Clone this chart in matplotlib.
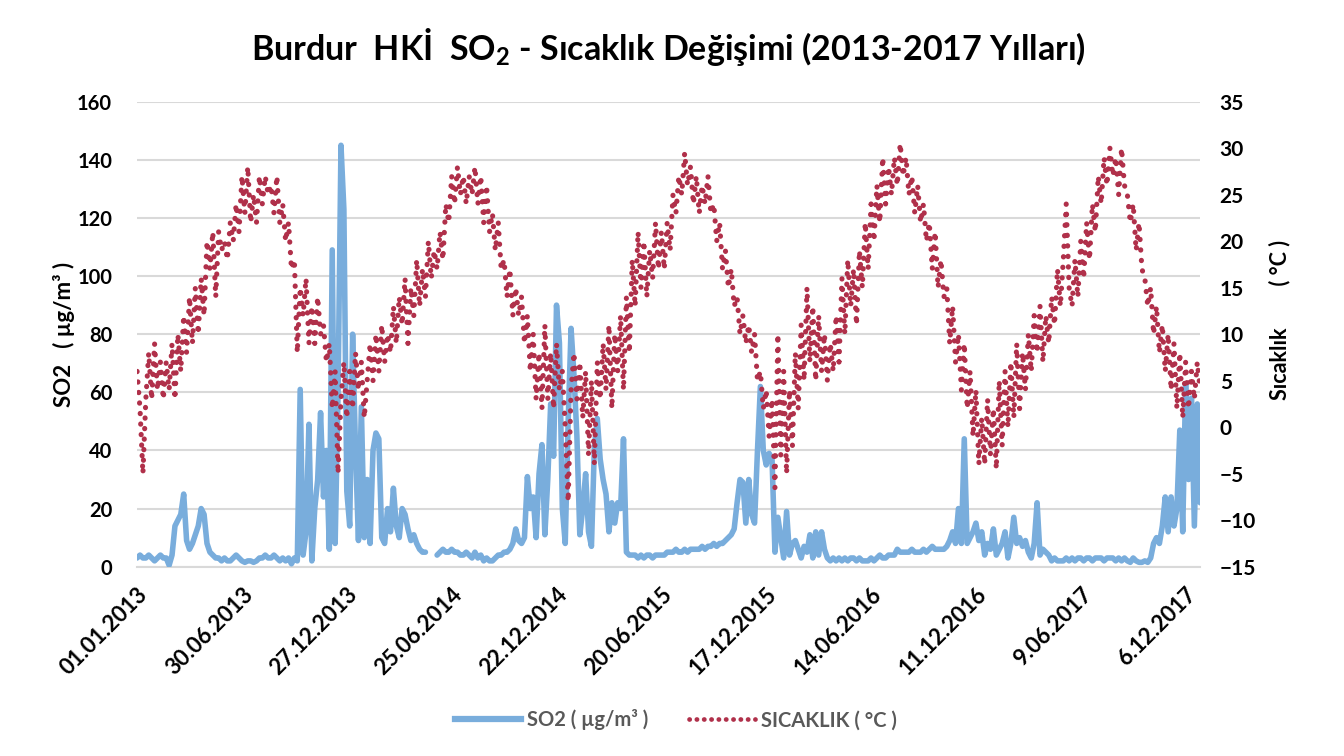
import numpy as np
import pandas as pd
import matplotlib
matplotlib.use('Agg')
import matplotlib.pyplot as plt
from matplotlib.lines import Line2D

plt.rcParams['font.family'] = ['Lato', 'DejaVu Sans']
plt.rcParams['mathtext.fontset'] = 'custom'
plt.rcParams['mathtext.rm'] = 'Lato:bold'
plt.rcParams['mathtext.it'] = 'Lato:bold'
plt.rcParams['mathtext.bf'] = 'Lato:bold'

# 5-day readings, 01.01.2013 - 31.12.2017 (nan = no measurement)
so2 = [
    3, 4, 3, 3, 4, 3, 2, 3, 4, 3,
    3, 0.5, 4, 14, 16, 18, 25, 9, 6, 8,
    11, 14, 20, 18, 8, 5, 4, 3, 3, 2,
    3, 2, 2, 3, 4, 3, 2, 1.5, 2, 2,
    1.5, 2, 3, 3, 4, 3, 3, 4, 3, 2,
    3, 2, 3, 1, 3, 2, 61, 4, 12, 49,
    2, 20, 30, 53, 24, 40, 6, 109, 8, 60,
    145, 123, 26, 14, 80, 40, 9, 55, 10, 30,
    8, 40, 46, 44, 10, 8, 20, 12, 27, 14,
    10, 20, 18, 13, 9, 11, 8, 6, 5, 5,
    np.nan, np.nan, np.nan, 4, 5, 6, 5, 5, 6, 5,
    5, 4, 4, 5, 4, 3, 5, 3, 4, 2,
    3, 2, 2, 3, 4, 4, 5, 5, 6, 8,
    13, 9, 8, 10, 31, 20, 24, 10, 32, 42,
    11, 30, 56, 38, 90, 77, 20, 8, 50, 82,
    66, 45, 11, 20, 32, 12, 7, 41, 51, 37,
    30, 25, 12, 22, 15, 22, 20, 44, 5, 4,
    4, 4, 3, 4, 3, 4, 4, 3, 4, 4,
    4, 4, 5, 5, 5, 6, 5, 5, 6, 5,
    6, 6, 6, 6, 7, 6, 7, 7, 8, 7,
    8, 8, 9, 10, 11, 13, 22, 30, 29, 15,
    30, 18, 15, 40, 62, 40, 35, 39, 37, 5,
    17, 10, 3, 19, 4, 8, 9, 6, 3, 7,
    5, 11, 3, 12, 4, 12, 6, 3, 2, 3,
    2, 3, 2, 3, 2, 3, 3, 2, 3, 2,
    2, 2, 3, 2, 3, 4, 3, 3, 4, 4,
    4, 6, 5, 5, 5, 5, 6, 5, 5, 5,
    6, 5, 6, 7, 6, 6, 6, 6, 7, 9,
    12, 8, 20, 8, 44, 8, 10, 12, 15, 9,
    12, 4, 8, 6, 13, 4, 6, 8, 12, 3,
    8, 17, 8, 10, 7, 9, 5, 3, 8, 22,
    4, 6, 5, 4, 2, 3, 2, 2, 2, 3,
    2, 3, 2, 3, 3, 2, 3, 3, 2, 3,
    3, 3, 2, 3, 3, 3, 2, 3, 2, 3,
    2, 1.5, 3, 2, 1.5, 1.5, 2, 1.5, 3, 8,
    10, 8, 14, 24, 12, 24, 14, 20, 47, 12,
    63, 30, 58, 14, 56, 22,
]

temp = [
    6, 2, -5, 3, 8, 3, 9, 4, 7, 3,
    7, 4, 9, 3, 10, 6, 12, 8, 14, 9,
    15, 10, 16, 12, 20, 17, 21, 14, 21, 19,
    20, 18, 22, 20, 24, 21, 27, 23, 28, 22,
    25, 22, 27, 24, 27, 25, 26, 23, 27, 22,
    24, 20, 22, 17, 18, 8, 15, 12, 16, 9,
    13, 9, 14, 10, 11, 7, 9, 2, 6, -5,
    3, 7, 1, 6, 2, 8, 4, 7, 1, 5,
    9, 5, 10, 6, 11, 7, 10, 8, 13, 9,
    14, 11, 16, 9, 15, 12, 18, 13, 17, 14,
    20, 16, 19, 17, 21, 18, 24, 22, 27, 24,
    28, 25, 27, 24, 27, 25, 28, 24, 27, 22,
    26, 21, 23, 19, 22, 17, 18, 14, 17, 12,
    15, 12, 14, 9, 12, 6, 10, 3, 8, 2,
    11, 3, 8, 2, 9, 4, 6, 0, -8, 4,
    8, 3, 7, 1, 6, -3, 5, -4, 7, 3,
    9, 4, 11, 2, 10, 6, 12, 4, 14, 8,
    18, 13, 21, 15, 20, 14, 19, 16, 22, 17,
    21, 17, 22, 19, 25, 23, 27, 25, 29.5, 26,
    28, 24, 27, 23, 26, 24, 27, 23, 24, 20,
    22, 17, 19, 15, 17, 13, 14, 10, 12, 9,
    11, 8, 10, 5, 6, 2, 4, -1, 3, -6.5,
    10, -3, 6, -5, 4, -2, 8, 2, 11, 5,
    15, 7, 13, 5, 12, 6, 10, 5, 9, 6,
    12, 7, 16, 10, 18, 13, 17, 11, 19, 15,
    22, 17, 24, 20, 26, 22, 29, 24, 28, 25,
    29, 26, 30.5, 27, 29, 25, 27, 23, 26, 22,
    24, 20, 22, 17, 21, 15, 18, 14, 15, 9,
    13, 7, 10, 4, 9, 2, 6, -1, 4, -4,
    1, -4, 3, -3, 2, -4.5, 5, -2, 6, 0,
    7, 1, 9, 2, 8, 4, 10, 6, 12, 8,
    13, 7, 12, 9, 14, 11, 17, 13, 18, 24,
    15, 13, 18, 14, 20, 16, 22, 18, 24, 21,
    27, 24, 29, 26, 30, 27, 29, 25, 30, 26,
    25, 22, 24, 19, 22, 17, 16, 13, 15, 10,
    13, 8, 11, 6, 10, 4, 9, 2, 8, 1,
    7, 2, 6, 3, 7, 4,
]

dates = pd.date_range('2013-01-01', periods=len(so2), freq='5D')

tick_labels = ['01.01.2013', '30.06.2013', '27.12.2013', '25.06.2014',
               '22.12.2014', '20.06.2015', '17.12.2015', '14.06.2016',
               '11.12.2016', '9.06.2017', '6.12.2017']
tick_dates = pd.to_datetime(tick_labels, format='%d.%m.%Y')

so2_ticks = [0, 20, 40, 60, 80, 100, 120, 140, 160]
temp_ticks = [-15, -10, -5, 0, 5, 10, 15, 20, 25, 30, 35]

BLUE = '#79ADDC'
RED = '#B0304A'
GRID = '#D9D9D9'
DOTS = (0, (0.05, 2.0))

fig = plt.figure(figsize=(13.44, 7.56), dpi=100)
ax = fig.add_axes([0.102, 0.2504, 0.791, 0.6151])
ax2 = ax.twinx()

ax.plot(dates, so2, color=BLUE, lw=4.0, solid_joinstyle='round',
        solid_capstyle='round', zorder=3)
ax2.plot(dates, temp, color=RED, lw=3.7, linestyle=DOTS,
         dash_capstyle='round', zorder=4)

ax.set_ylim(0, 160)
ax.set_yticks(so2_ticks)
ax2.set_ylim(-15, 35)
ax2.set_yticks(temp_ticks)
ax.set_xlim(dates[0], dates[-1])
ax.set_xticks(tick_dates)
ax.set_xticklabels(tick_labels, rotation=45, ha='right', va='top',
                   rotation_mode='anchor', fontsize=16, fontweight='bold')

ax.grid(axis='y', color=GRID, lw=1.5)
ax.set_axisbelow(True)
for a in (ax, ax2):
    for s in a.spines.values():
        s.set_visible(False)
    a.tick_params(length=0)
ax.spines['bottom'].set_visible(True)
ax.spines['bottom'].set_color(GRID)
ax.spines['bottom'].set_linewidth(1.5)

ax.tick_params(axis='y', labelsize=14.5, pad=18)
ax.tick_params(axis='x', pad=12)
ax2.tick_params(axis='y', labelsize=15, pad=14)
for lbl in ax.get_yticklabels() + ax2.get_yticklabels():
    lbl.set_fontweight('bold')

ax.set_ylabel('SO2   ( µg/m³ )', fontsize=16, fontweight='bold')
ax.yaxis.set_label_coords(-0.058, 0.5)
ax2.set_ylabel('Sıcaklık        ( °C )', fontsize=15.5, fontweight='bold',
               rotation=90)
ax2.yaxis.set_label_coords(1.064, 0.53)

ax.set_title(r'Burdur  HKİ  SO$_2$ - Sıcaklık Değişimi (2013-2017 Yılları)',
             fontsize=24.5, fontweight='bold', pad=30)

handles = [Line2D([], [], color=BLUE, lw=4.5),
           Line2D([], [], color=RED, lw=3.4, linestyle=(0, (0.05, 1.5)),
                  dash_capstyle='round')]
leg = fig.legend(handles, ['SO2 ( µg/m³ )', 'SICAKLIK ( °C )'],
                 loc='center', bbox_to_anchor=(0.503, 0.048), ncol=2,
                 frameon=False, handlelength=3.3, columnspacing=2.0,
                 handletextpad=0.3, prop={'size': 14.5, 'weight': 'bold'})
for t in leg.get_texts():
    t.set_color('#595959')

fig.savefig('out.png', dpi=100)
